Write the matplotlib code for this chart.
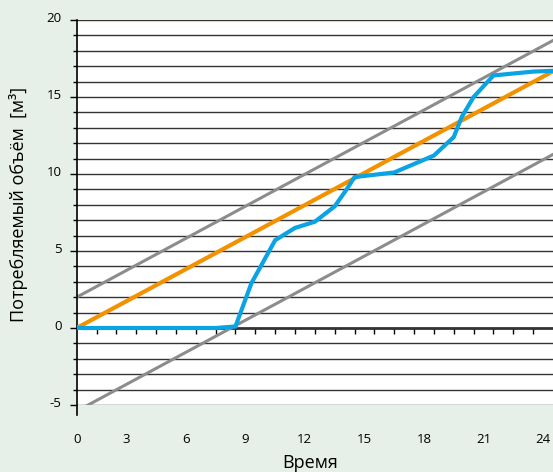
import matplotlib
matplotlib.use('Agg')
import matplotlib.pyplot as plt
import matplotlib.transforms as mtransforms
import numpy as np

plt.rcParams['font.family'] = ['Open Sans', 'DejaVu Sans']
plt.rcParams['axes.unicode_minus'] = False

# measured consumption (blue)
hours = [0, 7, 8, 8.8, 10, 11, 12, 13, 13.6, 14, 16, 18, 19, 19.4, 20, 21, 23, 24]
volume = [0, 0, 0.1, 2.9, 5.7, 6.5, 6.9, 7.9, 9.0, 9.8, 10.1, 11.2, 12.4, 13.7, 15.0, 16.4, 16.65, 16.7]

# planned consumption (orange) and tolerance band (gray)
plan_hours = [0, 24]
plan = [0, 16.67]
upper = [2, 18.67]
lower = [-5.4, 11.27]

xticks = [0, 3, 6, 9, 12, 15, 18, 21, 24]
yticks = [-5, 0, 5, 10, 15, 20]

BG = '#e6f0e8'
BLUE = '#0aa3e3'
ORANGE = '#f39200'
GRAY = '#8c8c8c'

fig = plt.figure(figsize=(5.53, 4.72), dpi=100, facecolor=BG)
ax = fig.add_axes([76.7 / 553, 67 / 472, (553 - 76.7) / 553, 385 / 472])
ax.set_facecolor('white')
ax.set_xlim(0, 23.93)
ax.set_ylim(-5, 20)

# horizontal grid every unit
for v in range(-5, 21):
    ax.axhline(v, color='#333333', lw=2.0 if v == 0 else 1.0, zorder=1)

ax.plot(plan_hours, upper, color=GRAY, lw=2.2, zorder=2)
ax.plot(plan_hours, lower, color=GRAY, lw=2.2, zorder=2)
ax.plot(plan_hours, plan, color=ORANGE, lw=3, zorder=3, solid_capstyle='butt')
ax.plot(hours, volume, color=BLUE, lw=3, zorder=4, solid_joinstyle='miter')

for s in ['top', 'right', 'bottom']:
    ax.spines[s].set_visible(False)
ax.spines['left'].set_bounds(-5.65, 20)
ax.spines['left'].set_linewidth(1.2)

ax.set_yticks(yticks)
ax.set_yticks(range(-5, 21), minor=True)
ax.tick_params(axis='y', which='major', length=5, width=1, pad=6, labelsize=9.5)
ax.tick_params(axis='y', which='minor', length=3, width=1)
for lab in ax.get_yticklabels():
    lab.set_transform(lab.get_transform() + mtransforms.ScaledTranslation(0, 3 / 100, fig.dpi_scale_trans))

ax.set_xticks(xticks)
ax.tick_params(axis='x', which='major', length=0, pad=20, labelsize=9.5)
for lab in ax.get_xticklabels()[1:]:
    lab.set_transform(lab.get_transform() + mtransforms.ScaledTranslation(-10 / 100, 0, fig.dpi_scale_trans))

# small ticks along the zero line
sec = ax.secondary_xaxis(0.2)
sec.set_xticks(range(1, 24))
sec.tick_params(axis='x', length=4, width=1, labelbottom=False, direction='out')
sec.spines['bottom'].set_visible(False)

ax.set_xlabel('Время', fontsize=13, labelpad=5)
ax.xaxis.set_label_coords(0.49, -0.128)
ax.set_ylabel('Потребляемый объём  [м³]', fontsize=13)
ax.yaxis.set_label_coords(-0.103, 0.522)

fig.savefig('out.png', dpi=100, facecolor=BG)
